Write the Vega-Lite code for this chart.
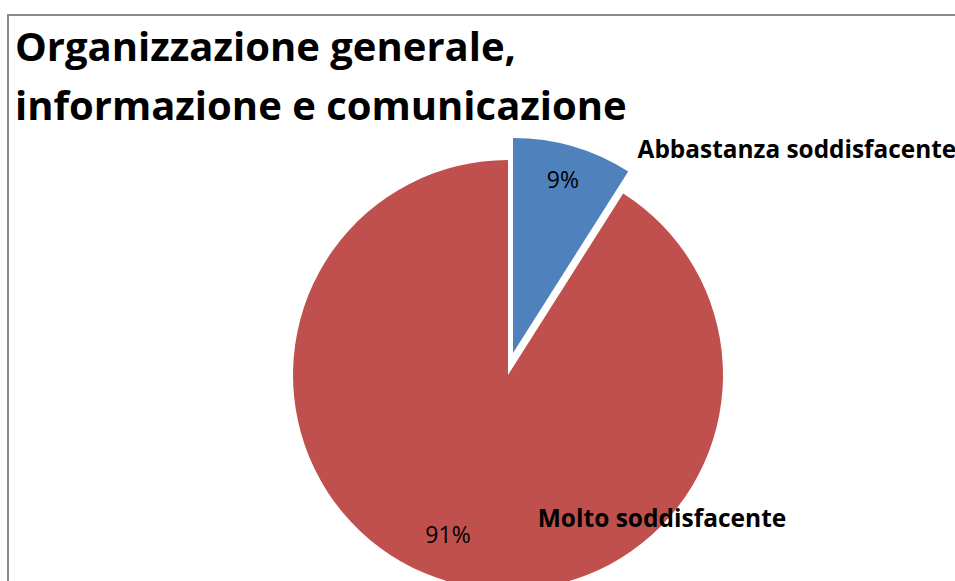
{
  "$schema": "https://vega.github.io/schema/vega-lite/v6.json",
  "width": 1000,
  "height": 720,
  "autosize": "none",
  "padding": {"left": 8, "top": 15, "right": 0, "bottom": 0},
  "background": "white",
  "view": {"stroke": "#8a8a8a", "strokeWidth": 2},
  "config": {
    "font": "Open Sans"
  },
  "title": {
    "text": ["Organizzazione generale,", "informazione e comunicazione"],
    "anchor": "start",
    "frame": "group",
    "orient": "top",
    "baseline": "alphabetic",
    "offset": -145,
    "dx": 7,
    "font": "Open Sans",
    "fontSize": 40,
    "fontWeight": "bold",
    "color": "black",
    "lineHeight": 59
  },
  "data": {
    "values": [
      {"cat": "Abbastanza soddisfacente", "v": 0.09},
      {"cat": "Molto soddisfacente", "v": 0.91}
    ]
  },
  "encoding": {
    "theta": {"field": "v", "type": "quantitative", "stack": true, "scale": {"domain": [0, 1]}},
    "order": {"field": "cat", "type": "nominal"}
  },
  "layer": [
    {
      "mark": {"type": "arc", "radius": 215},
      "encoding": {
        "color": {"field": "cat", "type": "nominal", "legend": null,
          "scale": {"domain": ["Abbastanza soddisfacente", "Molto soddisfacente"], "range": ["#4F81BD", "#C0504D"]}},
        "opacity": {"condition": {"test": "datum.cat === 'Molto soddisfacente'", "value": 1}, "value": 0}
      }
    },
    {
      "mark": {"type": "arc", "radius": 215, "xOffset": 5, "yOffset": -22},
      "encoding": {
        "color": {"field": "cat", "type": "nominal", "legend": null},
        "opacity": {"condition": {"test": "datum.cat === 'Abbastanza soddisfacente'", "value": 1}, "value": 0}
      }
    },
    {
      "mark": {"type": "text", "radius": 179, "xOffset": 5, "yOffset": -22, "fontSize": 23, "color": "black", "baseline": "middle", "align": "center"},
      "encoding": {
        "text": {"condition": {"test": "datum.cat === 'Abbastanza soddisfacente'", "field": "v", "format": ".0%"}, "value": ""}
      }
    },
    {
      "mark": {"type": "text", "radius": 172, "dx": -12, "dy": -4, "fontSize": 23, "color": "black", "baseline": "middle", "align": "center"},
      "encoding": {
        "text": {"condition": {"test": "datum.cat === 'Molto soddisfacente'", "field": "v", "format": ".0%"}, "value": ""}
      }
    },
    {
      "mark": {"type": "text", "radius": 210, "xOffset": 5, "yOffset": -22, "dx": 66, "fontSize": 24.4, "fontWeight": "bold", "color": "black", "baseline": "middle", "align": "left"},
      "encoding": {
        "text": {"condition": {"test": "datum.cat === 'Abbastanza soddisfacente'", "field": "cat"}, "value": ""}
      }
    },
    {
      "mark": {"type": "text", "radius": 0, "dx": 154, "dy": 145, "fontSize": 24.5, "fontWeight": "bold", "color": "black", "baseline": "middle", "align": "center"},
      "encoding": {
        "text": {"condition": {"test": "datum.cat === 'Molto soddisfacente'", "field": "cat"}, "value": ""}
      }
    }
  ]
}
